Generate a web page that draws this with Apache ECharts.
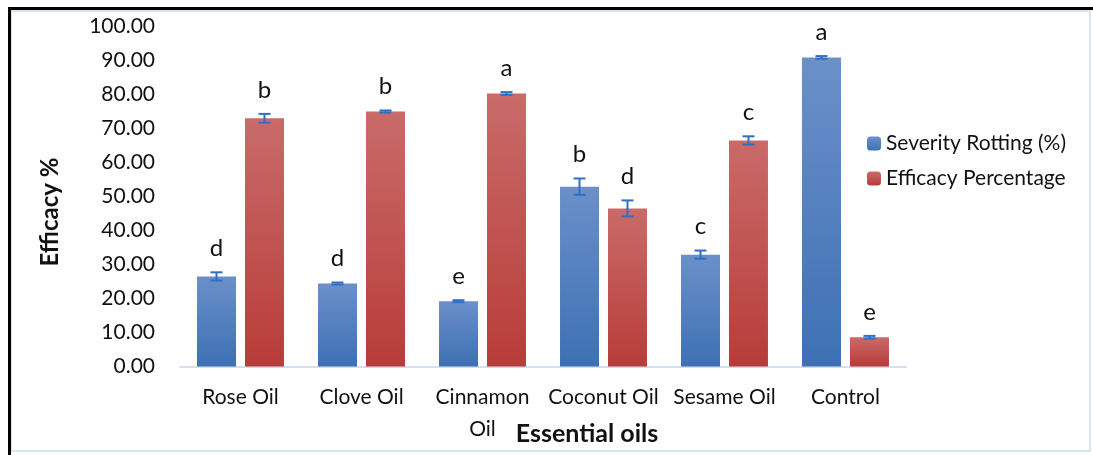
<!DOCTYPE html>
<html>
<head>
<meta charset="utf-8">
<script src="https://cdn.jsdelivr.net/npm/echarts@6/dist/echarts.min.js"></script>
<style>
  html, body { margin: 0; padding: 0; background: #fff; }
  #chart { width: 1093px; height: 455px; }
</style>
</head>
<body>
<div id="chart"></div>
<script type="text/javascript">
	// data
	var oils = ['Rose Oil', 'Clove Oil', 'Cinnamon\nOil', 'Coconut Oil', 'Sesame Oil', 'Control'];
	var severity = [26.5, 24.4, 19.2, 52.9, 32.9, 90.9];
	var severityErr = [1.2, 0.3, 0.3, 2.4, 1.2, 0.4];
	var severityLetters = ['d', 'd', 'e', 'b', 'c', 'a'];
	var efficacy = [73.0, 75.0, 80.3, 46.5, 66.5, 8.6];
	var efficacyErr = [1.3, 0.3, 0.4, 2.35, 1.2, 0.4];
	var efficacyLetters = ['b', 'b', 'a', 'd', 'c', 'e'];
	var yTicks = [0, 10, 20, 30, 40, 50, 60, 70, 80, 90, 100];

	var font = 'Lato, "Noto Sans", sans-serif';
	var barW = 39;
	var offset = 24;

	var blueGrad = new echarts.graphic.LinearGradient(0, 0, 0, 1, [
		{offset: 0, color: '#6b90c9'}, {offset: 1, color: '#3d70b4'}
	]);
	var redGrad = new echarts.graphic.LinearGradient(0, 0, 0, 1, [
		{offset: 0, color: '#c96b69'}, {offset: 1, color: '#b83c39'}
	]);

	function errData(vals, errs, letters) {
		var res = [];
		for (var i = 0; i < vals.length; i++) {
			res.push([i, vals[i], errs[i], letters[i]]);
		}
		return res;
	}

	function errRender(dx, letters) {
		return function (params, api) {
			var i = api.value(0);
			var v = api.value(1);
			var e = api.value(2);
			var x = api.coord([i, 0])[0] + dx;
			var top = api.coord([i, v + e])[1];
			var bot = api.coord([i, v - e])[1];
			var st = {stroke: '#2f70c6', lineWidth: 2};
			return {
				type: 'group',
				children: [
					{type: 'line', shape: {x1: x, y1: top, x2: x, y2: bot}, style: st},
					{type: 'line', shape: {x1: x - 6, y1: top, x2: x + 6, y2: top}, style: st},
					{type: 'line', shape: {x1: x - 6, y1: bot, x2: x + 6, y2: bot}, style: st},
					{type: 'text', x: x, y: top - 24, style: {
						text: letters[i], fill: '#111', font: '24px ' + font,
						align: 'center', verticalAlign: 'middle'
					}}
				]
			};
		};
	}

	var chart = echarts.init(document.getElementById('chart'), null, {renderer: 'canvas'});
	var option = {
		backgroundColor: '#fff',
		animation: false,
		grid: {left: 180, right: 187, top: 26.5, bottom: 88.5},
		legend: {
			orient: 'vertical',
			left: 862,
			top: 128,
			itemWidth: 14,
			itemHeight: 14,
			itemGap: 14,
			data: ['Severity Rotting (%)', 'Efficacy Percentage'],
			textStyle: {fontFamily: font, fontSize: 21, color: '#111'}
		},
		xAxis: {
			type: 'category',
			data: oils,
			axisLine: {lineStyle: {color: '#d6dff0', width: 2}},
			axisTick: {show: false},
			axisLabel: {
				fontFamily: font, fontSize: 21, color: '#111',
				margin: 15, lineHeight: 32, interval: 0
			}
		},
		yAxis: {
			type: 'value',
			min: yTicks[0],
			max: yTicks[yTicks.length - 1],
			interval: 10,
			splitLine: {show: false},
			axisLine: {show: false},
			axisTick: {show: false},
			axisLabel: {
				fontFamily: font, fontSize: 21, color: '#111', margin: 25,
				formatter: function (v) { return v.toFixed(2); }
			}
		},
		series: [
			{
				name: 'Severity Rotting (%)',
				type: 'bar',
				data: severity,
				barWidth: barW,
				barGap: '23%',
				itemStyle: {color: blueGrad}
			},
			{
				name: 'Efficacy Percentage',
				type: 'bar',
				data: efficacy,
				barWidth: barW,
				barGap: '23%',
				itemStyle: {color: redGrad}
			},
			{
				type: 'custom',
				data: errData(severity, severityErr, severityLetters),
				renderItem: errRender(-offset, severityLetters),
				z: 10
			},
			{
				type: 'custom',
				data: errData(efficacy, efficacyErr, efficacyLetters),
				renderItem: errRender(offset, efficacyLetters),
				z: 10
			}
		],
		graphic: [
			{type: 'rect', shape: {x: 11, y: 11, width: 1079, height: 440},
				style: {fill: 'none', stroke: '#dae3f3', lineWidth: 2}, z: -1},
			{type: 'rect', shape: {x: 8, y: 7, width: 1085, height: 3}, style: {fill: '#000'}},
			{type: 'rect', shape: {x: 8, y: 7, width: 3, height: 448}, style: {fill: '#000'}},
			{type: 'text', x: 50, y: 212, rotation: Math.PI / 2,
				style: {text: 'Efficacy %', font: 'bold 24px ' + font, fill: '#111',
					align: 'center', verticalAlign: 'middle'}},
			{type: 'text', x: 587, y: 434,
				style: {text: 'Essential oils', font: 'bold 25px ' + font, fill: '#111',
					align: 'center', verticalAlign: 'middle'}}
		]
	};
	chart.setOption(option);
	window.onresize = function() {
		chart.resize();
	};
</script>
</body>
</html>
